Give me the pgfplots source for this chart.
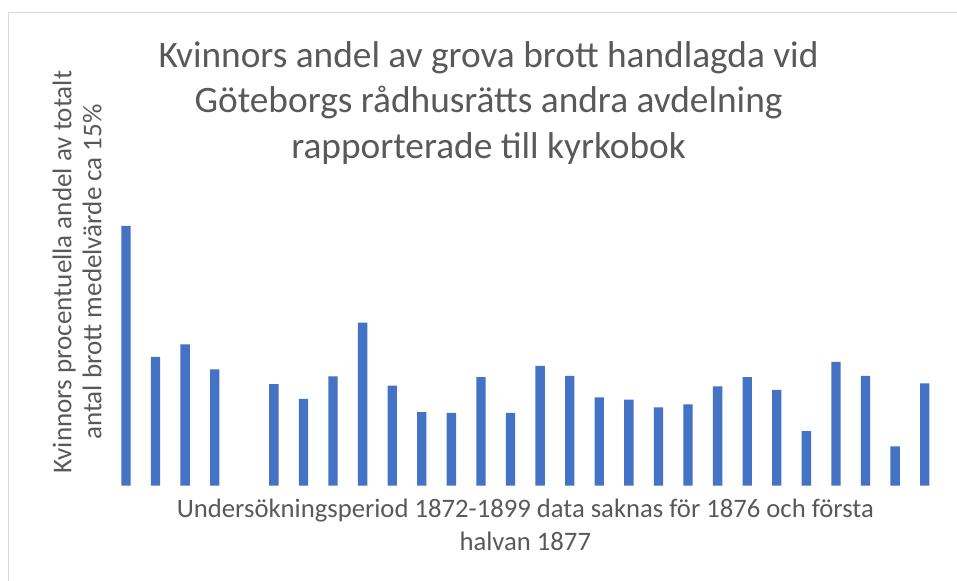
\documentclass[border=0pt]{standalone}
\usepackage{pgfplots}
\pgfplotsset{compat=1.18}
\usepackage{pgfplotstable}
\usepackage{fontspec}
\setmainfont{Carlito}
\definecolor{barblue}{HTML}{4472C4}
\definecolor{txtgray}{HTML}{595959}
\definecolor{bordergray}{HTML}{D9D9D9}
\pgfplotstableread{
year value
1872 37.1
1873 18.4
1874 20.2
1875 16.6
1877 14.5
1878 12.4
1879 15.6
1880 23.3
1881 14.3
1882 10.5
1883 10.4
1884 15.5
1885 10.4
1886 17.1
1887 15.7
1888 12.6
1889 12.3
1890 11.2
1891 11.6
1892 14.2
1893 15.5
1894 13.7
1895 7.8
1896 17.7
1897 15.7
1898 5.6
1899 14.6
}\datatable
\begin{document}
\begin{tikzpicture}
\path[use as bounding box] (0pt,0pt) rectangle (717.75pt,435.75pt);
\draw[bordergray, line width=0.9pt] (6.4pt,0pt) -- (6.4pt,426.4pt) -- (717.75pt,426.4pt);
\begin{axis}[
  at={(83.4pt,71.5pt)}, anchor=south west,
  scale only axis,
  width=621.2pt, height=210pt,
  xmin=-0.5, xmax=27.5, ymin=0, ymax=40,
  axis lines=none, ticks=none,
  clip=false,
]
\addplot[ybar, bar width=7pt, fill=barblue, draw=none] table[x expr=\thisrow{year}-1872, y=value] {\datatable};
\end{axis}
\node[txtgray, align=center, font=\fontsize{28}{34}\selectfont] at (366.4pt,358.5pt)
  {Kvinnors andel av grova brott handlagda vid\\Göteborgs rådhusrätts andra avdelning\\rapporterade till kyrkobok};
\node[txtgray, align=center, font=\fontsize{20}{24.75}\selectfont] at (394pt,42.4pt)
  {Undersökningsperiod 1872-1899 data saknas för 1876 och första\\halvan 1877};
\node[txtgray, align=center, rotate=90, font=\fontsize{20.3}{22.5}\selectfont] at (57.75pt,231.75pt)
  {Kvinnors procentuella andel av totalt\\antal brott medelvärde ca 15\%};
\end{tikzpicture}
\end{document}
